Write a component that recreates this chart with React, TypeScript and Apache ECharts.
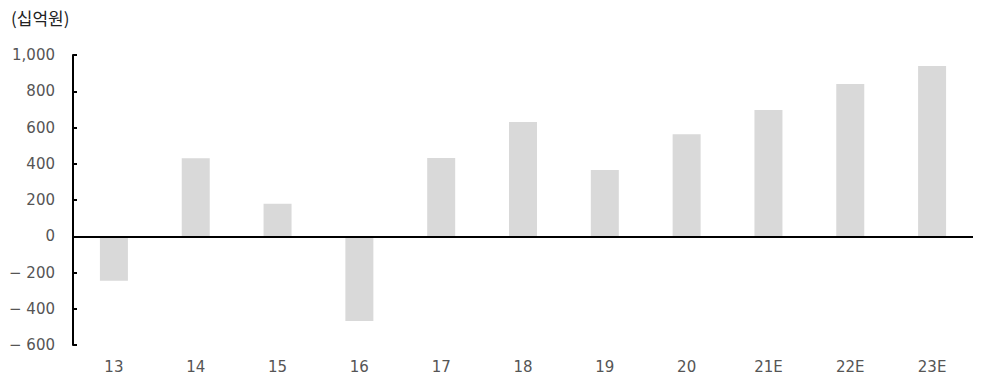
import React, { useEffect, useRef } from "react";
import * as echarts from "echarts";

const categories = ["13", "14", "15", "16", "17", "18", "19", "20", "21E", "22E", "23E"];
const values = [-245, 430, 180, -468, 432, 630, 366, 563, 696, 840, 939];
const unitLabel = "(십억원)";

export default function App() {
  const ref = useRef<HTMLDivElement>(null);
  useEffect(() => {
    if (!ref.current) return;
    const chart = echarts.init(ref.current, undefined, { renderer: "svg" });
    const numFont = "'DejaVu Sans', 'Noto Sans', sans-serif";
    const cjkFont = "'Noto Sans CJK KR', 'Noto Sans', sans-serif";
    chart.setOption({
      animation: false,
      backgroundColor: "#ffffff",
      title: {
        text: unitLabel,
        left: 6,
        top: 4,
        textStyle: { fontSize: 17, fontWeight: "normal", color: "#222", fontFamily: cjkFont },
      },
      grid: { left: 73, top: 55, width: 900, height: 290, containLabel: false },
      xAxis: {
        type: "category",
        data: categories,
        position: "bottom",
        axisLine: { show: false, onZero: false },
        axisTick: { show: false },
        axisLabel: { color: "#555", fontSize: 15, margin: 14, fontFamily: numFont },
        splitLine: { show: false },
      },
      yAxis: {
        type: "value",
        min: -600,
        max: 1000,
        interval: 200,
        axisLine: { show: true, lineStyle: { color: "#000", width: 2 } },
        axisTick: { show: true, inside: true, length: 4, lineStyle: { color: "#000", width: 2 } },
        splitLine: { show: false },
        axisLabel: {
          color: "#555",
          fontSize: 15,
          margin: 18,
          fontFamily: numFont,
          formatter: (v: number) => {
            const s = Math.abs(v).toLocaleString("en-US");
            return v < 0 ? "− " + s : s;
          },
        },
      },
      series: [
        {
          type: "bar",
          data: values,
          barWidth: 28,
          itemStyle: { color: "#d9d9d9" },
          markLine: {
            silent: true,
            symbol: "none",
            label: { show: false },
            lineStyle: { color: "#000", width: 2, type: "solid" },
            data: [{ yAxis: 0 }],
          },
        },
      ],
    });
    return () => chart.dispose();
  }, []);
  return (
    <div
      ref={ref}
      style={{ position: "fixed", left: 0, top: 0, width: 983, height: 376 }}
    />
  );
}
